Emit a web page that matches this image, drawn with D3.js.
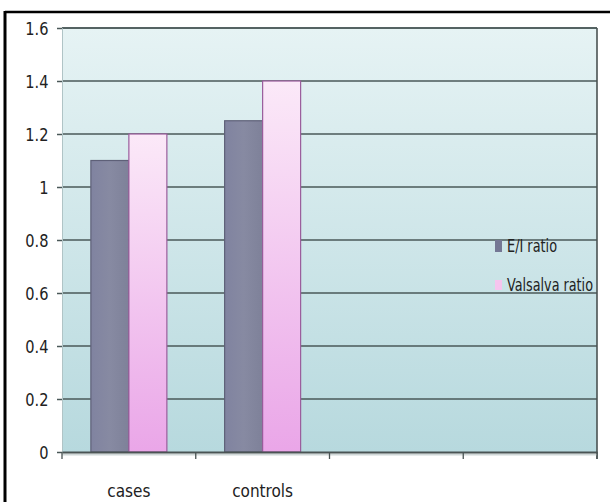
<!DOCTYPE html>
<html><head><meta charset="utf-8">
<script src="https://cdn.jsdelivr.net/npm/d3@7"></script>
<style>
html,body{margin:0;padding:0;background:#fff;}
text{font-family:"DejaVu Sans Condensed","DejaVu Sans",sans-serif;fill:#222;}
</style></head>
<body>
<svg id="chart" width="610" height="502"></svg>
<script>
const categories = ["cases", "controls", "", " "];
const seriesNames = ["E/I ratio", "Valsalva ratio"];
const eiRatio = [1.1, 1.25, null, null];
const valsalvaRatio = [1.2, 1.4, null, null];
const yTicks = [0, 0.2, 0.4, 0.6, 0.8, 1, 1.2, 1.4, 1.6];

const svg = d3.select("#chart");
const W = 610, H = 502;
const m = {left: 62, right: 13, top: 28, bottom: 50};
const iw = W - m.left - m.right, ih = H - m.top - m.bottom;
const FONT = '"DejaVu Sans Condensed","DejaVu Sans",sans-serif';

const defs = svg.append("defs");
const bg = defs.append("linearGradient").attr("id","bg").attr("x1",0).attr("y1",0).attr("x2",0).attr("y2",1);
bg.append("stop").attr("offset","0%").attr("stop-color","#e6f3f4");
bg.append("stop").attr("offset","100%").attr("stop-color","#b7d9de");
const pk = defs.append("linearGradient").attr("id","pk").attr("x1",0).attr("y1",0).attr("x2",0).attr("y2",1);
pk.append("stop").attr("offset","0%").attr("stop-color","#fbe9f8");
pk.append("stop").attr("offset","100%").attr("stop-color","#eaa6e8");
const gy = defs.append("linearGradient").attr("id","gy").attr("x1",0).attr("y1",0).attr("x2",1).attr("y2",0);
gy.append("stop").attr("offset","0%").attr("stop-color","#8083a0");
gy.append("stop").attr("offset","50%").attr("stop-color","#878aa2");
gy.append("stop").attr("offset","100%").attr("stop-color","#7e8199");

// outer frame
svg.append("line").attr("x1",5).attr("x2",610).attr("y1",12).attr("y2",12).attr("stroke","#000").attr("stroke-width",2.5);
svg.append("line").attr("x1",5).attr("x2",5).attr("y1",11).attr("y2",502).attr("stroke","#000").attr("stroke-width",3);

const g = svg.append("g").attr("transform",`translate(${m.left},${m.top})`);

const x = d3.scaleBand().domain(categories).range([0, iw]).paddingInner(0).paddingOuter(0);
const xs = d3.scaleBand().domain(seriesNames).range([0, x.bandwidth()]).paddingInner(0).paddingOuter(0.76);
const y = d3.scaleLinear().domain([0, 1.6]).range([ih, 0]);

g.append("rect").attr("x",0).attr("y",0).attr("width",iw).attr("height",ih).attr("fill","url(#bg)");

// gridlines
g.append("g").selectAll("line").data(yTicks.filter(d=>d>0)).join("line")
  .attr("x1",0).attr("x2",iw).attr("y1",d=>y(d)).attr("y2",d=>y(d))
  .attr("stroke","#4a5858").attr("stroke-width",1.6);

// bars
const data = categories.map((c,i)=>({c, vals:[eiRatio[i], valsalvaRatio[i]]}));
const groups = g.append("g").selectAll("g").data(data).join("g")
  .attr("transform",d=>`translate(${x(d.c)},0)`);
groups.selectAll("rect").data(d=>d.vals.map((v,j)=>({v, s:seriesNames[j], j})).filter(e=>e.v!=null)).join("rect")
  .attr("x",e=>xs(e.s)).attr("width",xs.bandwidth())
  .attr("y",e=>y(e.v)).attr("height",e=>ih - y(e.v))
  .attr("fill",e=>e.j===0?"url(#gy)":"url(#pk)")
  .attr("stroke",e=>e.j===0?"#5e6078":"#9a5c9c").attr("stroke-width",1.2);

// right border
g.append("line").attr("x1",iw).attr("x2",iw).attr("y1",0).attr("y2",ih+7).attr("stroke","#4a5252").attr("stroke-width",1.6);
g.append("line").attr("x1",0).attr("x2",iw).attr("y1",0).attr("y2",0).attr("stroke","#4a5858").attr("stroke-width",1.6);

// y axis
const yAxis = g.append("g").call(d3.axisLeft(y).tickValues(yTicks).tickSize(5).tickPadding(10)
  .tickFormat(d=>d3.format("")(+d.toFixed(1))));
yAxis.select(".domain").attr("stroke","#b0c4c6").attr("stroke-width",1);
yAxis.selectAll(".tick line").attr("stroke","#4a5858").attr("stroke-width",1.5);
yAxis.selectAll(".tick text").attr("font-size",18).attr("fill","#2a2a2a").attr("font-family",FONT)
  .attr("transform","scale(0.9,1)").attr("dy","0.36em");

// x axis
g.append("line").attr("x1",0).attr("x2",iw).attr("y1",ih+2.5).attr("y2",ih+2.5).attr("stroke","#d0d8d8").attr("stroke-width",2);
const xAxis = g.append("g").attr("transform",`translate(0,${ih})`)
  .call(d3.axisBottom(x).tickSize(0).tickPadding(33));
xAxis.select(".domain").attr("stroke","#4a5454").attr("stroke-width",2);
xAxis.selectAll(".tick text").attr("font-size",17).attr("fill","#2a2a2a").attr("font-family",FONT);
const bounds = categories.map(c=>x(c)).concat([iw]);
g.append("g").selectAll("line").data(bounds).join("line")
  .attr("x1",d=>d).attr("x2",d=>d).attr("y1",ih).attr("y2",ih+7)
  .attr("stroke","#4a5454").attr("stroke-width",1.3);

// legend
const legendWidths = [50, 86];
const legend = svg.append("g").attr("transform","translate(495,238)");
const li = legend.selectAll("g").data(seriesNames).join("g").attr("transform",(d,i)=>`translate(0,${i*39})`);
li.append("rect").attr("width",7).attr("height",(d,i)=>i===0?12:10).attr("y",(d,i)=>i===0?2:3)
  .attr("fill",(d,i)=>i===0?"#747794":"#f6c4ee");
li.append("text").attr("x",12).attr("y",14).attr("font-size",17).attr("font-family",FONT)
  .attr("textLength",(d,i)=>legendWidths[i]).attr("lengthAdjust","spacingAndGlyphs").text(d=>d);
</script>
</body></html>
